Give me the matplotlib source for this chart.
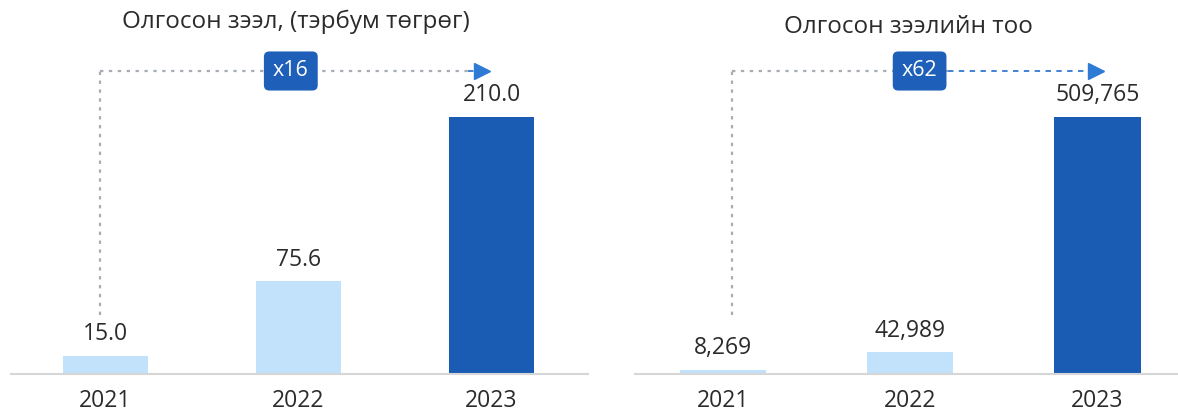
import numpy as np
import matplotlib
matplotlib.use("Agg")
import matplotlib.pyplot as plt

plt.rcParams['font.family'] = ['Open Sans', 'DejaVu Sans']

years = ["2021", "2022", "2023"]
loan_amount = [15.0, 75.6, 210.0]          # тэрбум төгрөг
loan_count = [8269, 42989, 509765]
titles = ["Олгосон зээл, (тэрбум төгрөг)", "Олгосон зээлийн тоо"]
growth = ["x16", "x62"]
amount_labels = ["15.0", "75.6", "210.0"]
count_labels = ["8,269", "42,989", "509,765"]

light = "#c2e1fb"
dark = "#1a5bb4"
box_col = "#1e5fba"
arrow_col = "#2f7ad4"
grey = "#a6adb5"
txt = "#2b2b2b"

W, H = 1178, 415
fig = plt.figure(figsize=(W / 100, H / 100), dpi=100)

base_y = 374
ax_h = base_y / H
axL = fig.add_axes([11 / W, (H - base_y) / H, (588 - 11) / W, ax_h])
axR = fig.add_axes([635 / W, (H - base_y) / H, (1178 - 635) / W, ax_h])


def draw(ax, vals, labels, xlim, width, title, title_xy, mult, box_x, line_x0, line_x1, tip_x, split):
  x = np.arange(len(vals))
  colors = [light, light, dark]
  ax.bar(x, vals, width=width, color=colors, zorder=2)
  top = max(vals) * 374 / 257
  ax.set_ylim(0, top)
  ax.set_xlim(*xlim)
  for xi, v, lab in zip(x, vals, labels):
    ax.annotate(lab, (xi, v), xytext=(0, 7), textcoords="offset points",
                ha="center", va="bottom", fontsize=16.5, color=txt)
  for s in ["top", "right", "left"]:
    ax.spines[s].set_visible(False)
  ax.spines["bottom"].set_color("#d6d6d6")
  ax.spines["bottom"].set_linewidth(1.5)
  ax.set_yticks([])
  ax.set_xticks(x)
  ax.set_xticklabels(years, fontsize=16.5, color=txt)
  ax.tick_params(axis="x", length=0, pad=11)

  # growth annotation in axes-fraction height
  tr = ax.get_xaxis_transform()
  y_line = (base_y - 71) / base_y
  y_low = (base_y - 315) / base_y
  ax.plot([line_x0, line_x0], [y_low, y_line], transform=tr, color=grey,
          ls=(0, (1.5, 2.5)), lw=1.6, clip_on=False)
  if split is None:
    ax.plot([line_x0, line_x1], [y_line, y_line], transform=tr, color=grey,
            ls=(0, (1.5, 2.5)), lw=1.6, clip_on=False)
    ax.plot([line_x1, tip_x - 0.05], [y_line, y_line], transform=tr, color=arrow_col,
            ls=(0, (3, 3)), lw=1.3, clip_on=False)
  else:
    ax.plot([line_x0, split], [y_line, y_line], transform=tr, color=grey,
            ls=(0, (1.5, 2.5)), lw=1.6, clip_on=False)
    ax.plot([split, tip_x - 0.05], [y_line, y_line], transform=tr, color=arrow_col,
            ls=(0, (3, 3)), lw=1.3, clip_on=False)
  ax.plot([tip_x - 0.04], [y_line], transform=tr, marker=">", ms=11,
          color=arrow_col, clip_on=False, zorder=4)
  ax.text(box_x, y_line, mult, transform=tr, ha="center", va="center",
          fontsize=15.5, color="white", zorder=5,
          bbox=dict(boxstyle="round,pad=0.42,rounding_size=0.25",
                    fc=box_col, ec="none"))
  fig.text(title_xy[0] / W, 1 - title_xy[1] / H, title, ha="center", va="center",
           fontsize=17.5, color=txt)


draw(axL, loan_amount, amount_labels, (-0.49, 2.50), 0.445, titles[0], (296, 22),
     growth[0], 0.96, -0.03, 1.88, 1.99, None)
draw(axR, loan_count, count_labels, (-0.47, 2.43), 0.46, titles[1], (908, 27),
     growth[1], 1.05, 0.05, 1.0, 2.03, 1.2)

fig.savefig("out.png", dpi=100, facecolor="white")
